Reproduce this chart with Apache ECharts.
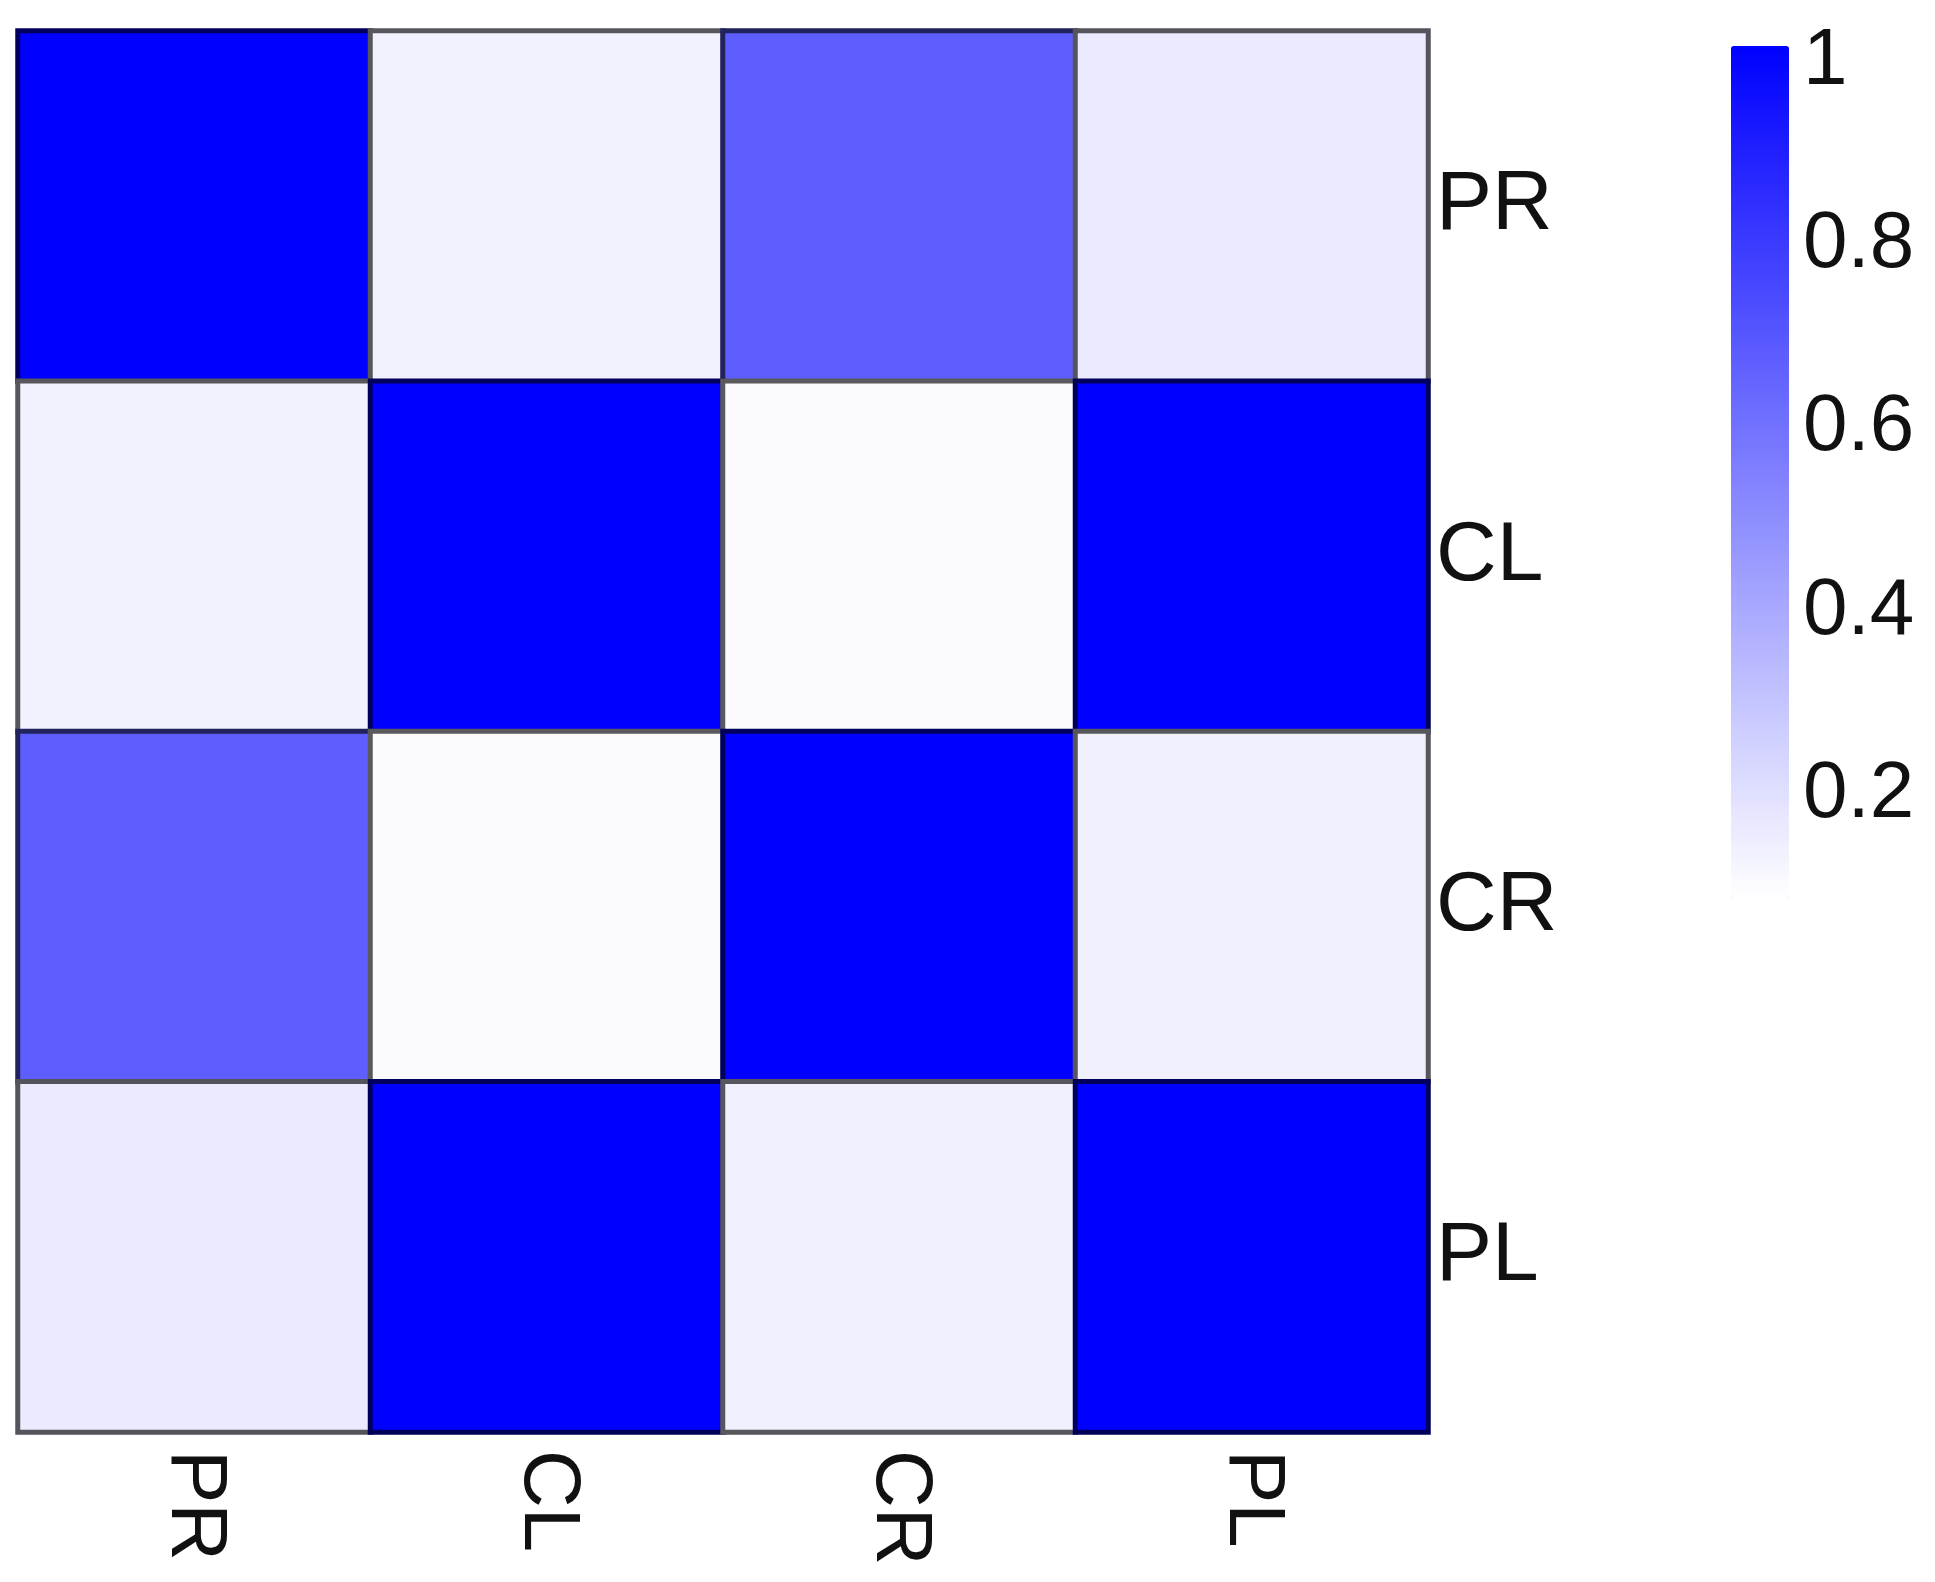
<!DOCTYPE html>
<html>
<head>
<meta charset="utf-8">
<script src="https://cdn.jsdelivr.net/npm/echarts@6/dist/echarts.min.js"></script>
<style>
html,body{margin:0;padding:0;background:#fff;}
#chart{width:1935px;height:1582px;}
</style>
</head>
<body>
<div id="chart"></div>
<script>
// ---- data ----
var xCategories = ['PR', 'CL', 'CR', 'PL'];
var yCategories = ['PR', 'CL', 'CR', 'PL'];
var rowPR = [1.00, 0.05, 0.63, 0.08];
var rowCL = [0.05, 1.00, 0.02, 1.00];
var rowCR = [0.63, 0.02, 1.00, 0.06];
var rowPL = [0.08, 1.00, 0.06, 1.00];
var colorbarTicks = [0.2, 0.4, 0.6, 0.8, 1];

var rows = [rowPR, rowCL, rowCR, rowPL];

function borderFor(v) {
  var k = 0.36;
  var rg = Math.round(255 * (1 - v) * k);
  var b = Math.round(255 * k);
  return 'rgb(' + rg + ',' + rg + ',' + b + ')';
}

var heatData = [];
rows.forEach(function (row, yi) {
  row.forEach(function (v, xi) {
    heatData.push({
      value: [xi, yi, v],
      itemStyle: { borderColor: borderFor(v), borderWidth: 5 }
    });
  });
});

var FONT = '"Liberation Sans", Arial, Helvetica, sans-serif';

var chart = echarts.init(document.getElementById('chart'), null, { renderer: 'canvas' });
chart.setOption({
  backgroundColor: '#ffffff',
  animation: false,
  grid: [
    { left: 18, top: 31, width: 1410, height: 1401 },
    { left: 1731, top: 62, width: 58, height: 916 }
  ],
  xAxis: [
    {
      type: 'category', gridIndex: 0, data: xCategories, position: 'bottom',
      axisLine: { show: false }, axisTick: { show: false }, splitLine: { show: false },
      axisLabel: { rotate: -90, fontSize: 80, color: '#111', fontFamily: FONT, margin: 18 }
    },
    {
      type: 'category', gridIndex: 1, data: [''], show: false
    }
  ],
  yAxis: [
    {
      type: 'category', gridIndex: 0, data: yCategories, inverse: true, position: 'right',
      axisLine: { show: false }, axisTick: { show: false }, splitLine: { show: false },
      axisLabel: { fontSize: 84, color: '#111', fontFamily: FONT, margin: 8 }
    },
    {
      type: 'value', gridIndex: 1, min: 0, max: 1, interval: 0.2, position: 'right',
      axisLine: { show: false }, axisTick: { show: false }, splitLine: { show: false },
      axisLabel: {
        fontSize: 80, color: '#111', fontFamily: FONT, margin: 14,
        formatter: function (v) {
          var hit = colorbarTicks.some(function (t) { return Math.abs(t - v) < 1e-9; });
          if (!hit) return '';
          return Math.abs(v - 1) < 1e-9 ? '1' : v.toFixed(1);
        }
      }
    }
  ],
  visualMap: {
    type: 'continuous', min: 0, max: 1, seriesIndex: 0,
    calculable: false, show: true, orient: 'vertical',
    left: 1731, top: 46, itemWidth: 58, itemHeight: 852, padding: 0,
    text: ['', ''], showLabel: false,
    inRange: { color: ['#ffffff', '#0000ff'] }
  },
  series: [
    {
      type: 'heatmap', xAxisIndex: 0, yAxisIndex: 0,
      data: heatData,
      label: { show: false },
      emphasis: { disabled: true }
    }
  ]
});
</script>
</body>
</html>
